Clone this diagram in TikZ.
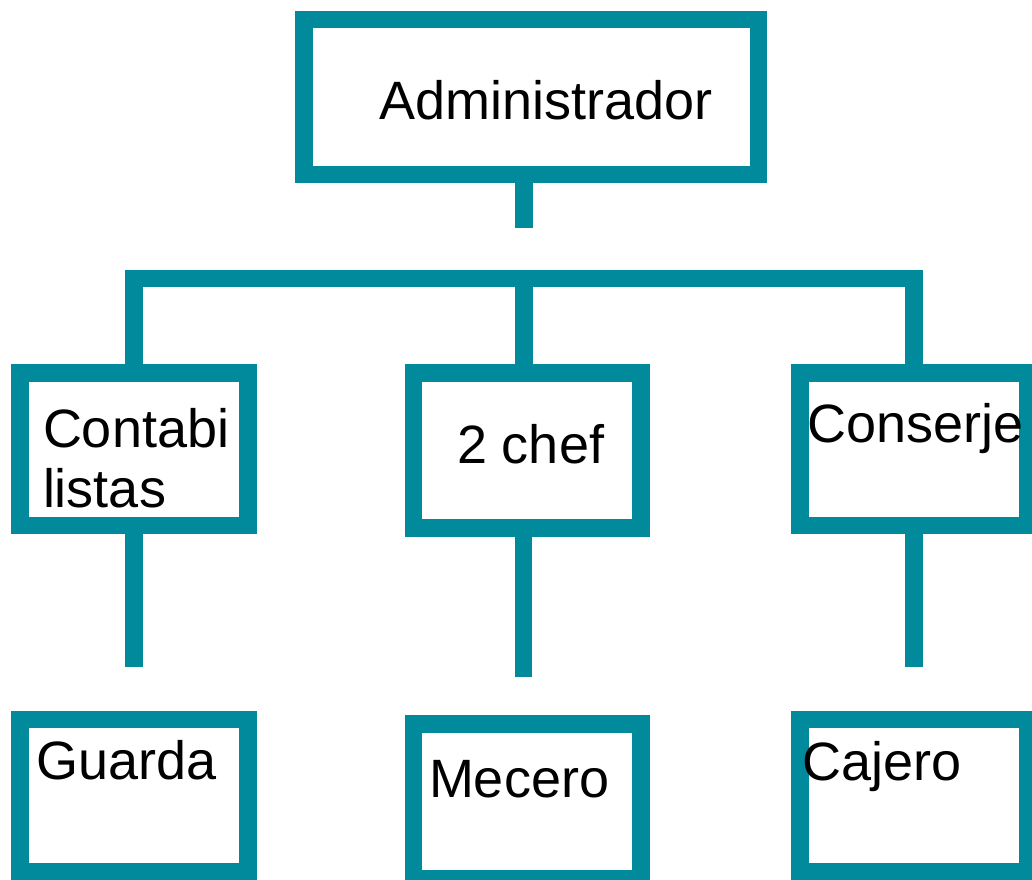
\documentclass[tikz,border=0pt]{standalone}
\usepackage{fontspec}
\setmainfont{Liberation Sans}
\definecolor{teal1}{RGB}{0,138,155}
\begin{document}
\begin{tikzpicture}[x=1pt,y=-1pt,
  orgbox/.style={draw=teal1,line width=17.5pt,rectangle,inner sep=0pt,outer sep=0pt},
  link/.style={draw=teal1,line width=17.5pt},
  lbl/.style={anchor=base west,inner sep=0pt,outer sep=0pt,font=\fontsize{54}{60}\selectfont,align=left}]
\useasboundingbox (0,0) rectangle (1032,879);
% boxes
\node[orgbox,minimum width=454.5pt,minimum height=155pt] (admin) at (531.25,97) {};
\node[orgbox,minimum width=228pt,minimum height=152.5pt] (contab) at (134,449.25) {};
\node[orgbox,minimum width=227.5pt,minimum height=155pt] (chef) at (527.25,450.5) {};
\node[orgbox,minimum width=228pt,minimum height=152.5pt] (conserje) at (914,449.25) {};
\node[orgbox,minimum width=228pt,minimum height=152pt] (guarda) at (134,795.5) {};
\node[orgbox,minimum width=227.5pt,minimum height=155pt] (mecero) at (527.25,801.5) {};
\node[orgbox,minimum width=228pt,minimum height=152pt] (cajero) at (914,795.5) {};
% connector coordinates
\coordinate (sA) at (524,228);
\coordinate (bar) at (524,278.5);
\coordinate (eL) at (134,667);
\coordinate (eM) at (523.5,677);
\coordinate (eR) at (914,667);
% connectors
\draw[link] (admin.south -| sA) -- (sA);
\draw[link] (contab.north) -- (contab.north |- bar) -- (conserje.north |- bar) -- (conserje.north);
\draw[link] (bar) -- (bar |- chef.north);
\draw[link] (contab.south) -- (eL);
\draw[link] (chef.south -| eM) -- (eM);
\draw[link] (conserje.south) -- (eR);
% labels
\node[lbl] (tadmin) at (379,119) {Administrador};
\node[lbl] (tcontab) at (43,507) {Contabi\\listas};
\node[lbl] (tchef) at (457,463) {2 chef};
\node[lbl] (tconserje) at (807,442) {Conserje};
\node[lbl] (tguarda) at (36,779) {Guarda};
\node[lbl] (tmecero) at (429,797) {Mecero};
\node[lbl] (tcajero) at (802,780) {Cajero};
\end{tikzpicture}
\end{document}
